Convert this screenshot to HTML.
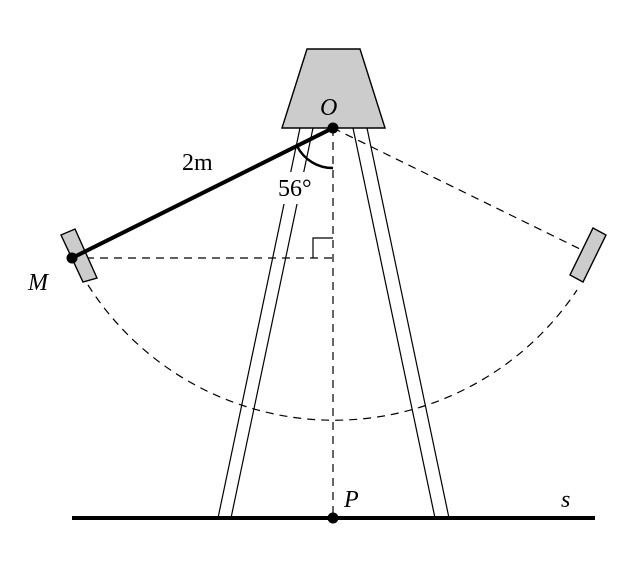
<!DOCTYPE html>
<html><head><style>body{margin:0;background:#fff}</style></head><body>
<svg width="640" height="560" viewBox="0 0 640 560" xmlns="http://www.w3.org/2000/svg" font-family="Liberation Serif, serif">
<g stroke="#000" stroke-width="1.2" fill="none">
<line x1="300" y1="128" x2="218" y2="518"/><line x1="313" y1="128" x2="231" y2="518"/>
<line x1="353" y1="128" x2="435" y2="518"/><line x1="367" y1="128" x2="449" y2="518"/>
</g>
<rect x="270" y="172" width="60" height="32" fill="#fff"/>
<polygon points="307,49 360,49 385,128 282,128" fill="#ccc" stroke="#000" stroke-width="1.4"/>
<g stroke="#000" stroke-width="1.2" fill="none" stroke-dasharray="8,6">
<line x1="333" y1="128" x2="333" y2="518"/>
<line x1="72" y1="258" x2="333" y2="258"/>
<line x1="333" y1="128" x2="582" y2="250"/>
<path d="M88,285 A291.6,291.6 0 0 0 577,290"/>
</g>
<polyline points="313,258 313,238 333,238" fill="none" stroke="#000" stroke-width="1.2"/>
<polygon points="61,235 75,229 97,278 83,282" fill="#ccc" stroke="#000" stroke-width="1.4"/>
<polygon points="593,228 606,235 583,282 570,275" fill="#ccc" stroke="#000" stroke-width="1.4"/>
<line x1="72" y1="258" x2="333" y2="128" stroke="#000" stroke-width="4"/>
<path d="M297,146 A40,40 0 0 0 333,168" fill="none" stroke="#000" stroke-width="2.5"/>
<line x1="72" y1="518" x2="595" y2="518" stroke="#000" stroke-width="4"/>
<circle cx="333" cy="128" r="5.5"/><circle cx="72" cy="258" r="5.5"/><circle cx="333" cy="518" r="5.5"/>
<g font-size="24">
<text x="320" y="115" font-style="italic">O</text>
<text x="182" y="170">2m</text>
<text x="278" y="196">56°</text>
<text x="28" y="290" font-style="italic">M</text>
<text x="344" y="507" font-style="italic">P</text>
<text x="561" y="507" font-style="italic">s</text>
</g>
</svg>
</body></html>
